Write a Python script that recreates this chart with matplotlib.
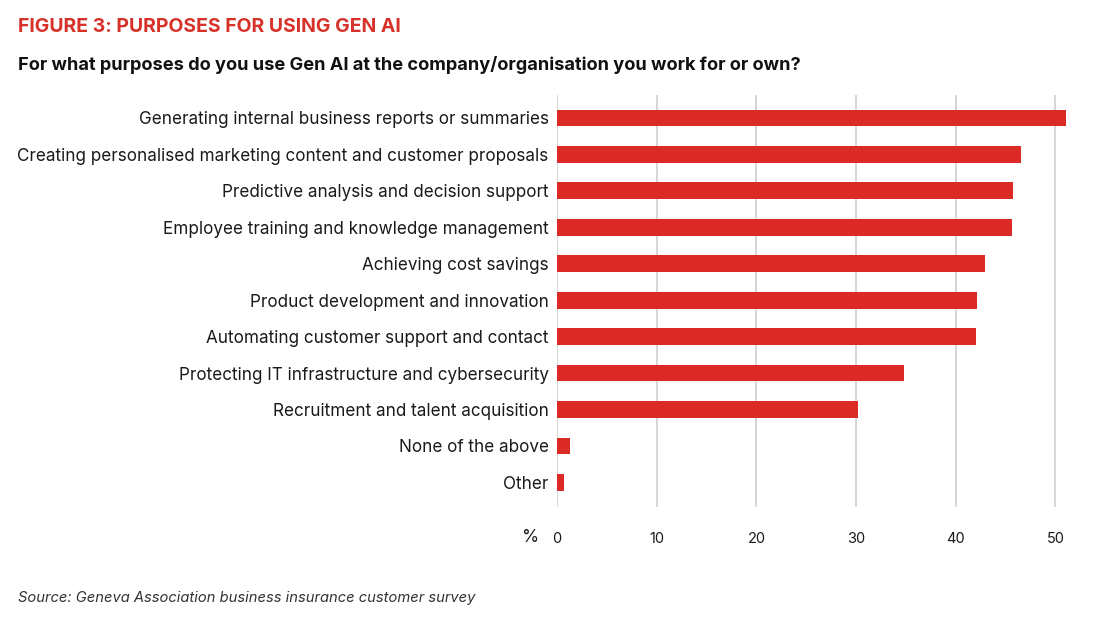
import matplotlib.pyplot as plt

plt.rcParams['font.family'] = ['Inter', 'DejaVu Sans']

# data
purposes = [
    "Generating internal business reports or summaries",
    "Creating personalised marketing content and customer proposals",
    "Predictive analysis and decision support",
    "Employee training and knowledge management",
    "Achieving cost savings",
    "Product development and innovation",
    "Automating customer support and contact",
    "Protecting IT infrastructure and cybersecurity",
    "Recruitment and talent acquisition",
    "None of the above",
    "Other",
]
share = [51.1, 46.5, 45.7, 45.6, 42.9, 42.1, 42.0, 34.8, 30.2, 1.3, 0.7]
xticks = [0, 10, 20, 30, 40, 50]

red = '#DC2A26'

fig = plt.figure(figsize=(11.03, 6.17), dpi=100)
ax = fig.add_axes([0.505, 0.178, 0.47, 0.668])

ypos = list(range(len(purposes)))
ax.barh(ypos, share, height=0.46, color=red, zorder=3)
ax.set_ylim(len(purposes) - 1 + 0.68, -0.63)
ax.set_xlim(0, 52)

ax.set_yticks(ypos)
ax.set_yticklabels(purposes, fontsize=12.3, color='#1a1a1a')
ax.set_xticks(xticks)
ax.set_xticklabels([str(t) for t in xticks], fontsize=10.5, color='#1a1a1a')
ax.tick_params(axis='y', length=0, pad=6)
ax.tick_params(axis='x', length=0, pad=18)

ax.grid(axis='x', color='#d0d0d0', linewidth=1.2, zorder=0)
for s in ax.spines.values():
    s.set_visible(False)

# % sign next to the 0 tick
fig.text(531 / 1103, 1 - 537 / 617, '%', fontsize=12.5, color='#1a1a1a',
         ha='center', va='center')

fig.text(18 / 1103, 1 - 27 / 617, 'FIGURE 3: PURPOSES FOR USING GEN AI',
         fontsize=14, fontweight='bold', color='#D7322A', va='center')
fig.text(18 / 1103, 1 - 65 / 617,
         'For what purposes do you use Gen AI at the company/organisation you work for or own?',
         fontsize=13.1, fontweight='bold', color='#111111', va='center')
fig.text(18 / 1103, 1 - 598 / 617,
         'Source: Geneva Association business insurance customer survey',
         fontsize=10.6, style='italic', color='#333333', va='center')

fig.savefig('out.png', dpi=100)
